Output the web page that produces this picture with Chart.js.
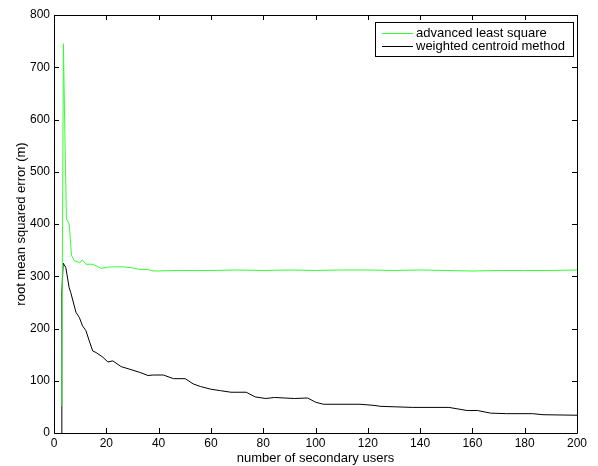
<!DOCTYPE html>
<html>
<head>
<meta charset="utf-8">
<script src="https://cdn.jsdelivr.net/npm/chart.js@4.4.1/dist/chart.umd.min.js"></script>
<style>
  html, body { margin: 0; padding: 0; background: #fff; }
  #wrap { width: 598px; height: 466px; position: relative; }
</style>
</head>
<body>
<div id="wrap"><canvas id="c" width="598" height="466"></canvas></div>
<script>
// ---- data ----
const seriesNames = ["advanced least square", "weighted centroid method"];
const xTicks = [0, 20, 40, 60, 80, 100, 120, 140, 160, 180, 200];
const yTicks = [0, 100, 200, 300, 400, 500, 600, 700, 800];

const greenX = [2.7, 3, 3.6, 4, 4.75, 5.8, 6.7, 7.7, 9.7, 10.9, 12.2, 14.8, 16.1, 18, 20, 22, 26.4, 30, 32.8, 35.7, 38, 47, 55, 60, 70, 80, 90, 100, 110, 120, 130, 140, 150, 160, 170, 180, 190, 200];
const greenY = [52, 126, 745, 620, 410, 400, 340, 330, 326, 331, 323, 323, 320, 315, 317, 318, 318, 316, 313, 313, 310, 311, 311, 311, 312, 311, 312, 311, 312, 312, 311, 312, 311, 310, 311, 311, 311, 312];

const blackX = [3, 3, 3.5, 4.5, 5.8, 6.4, 8.4, 9.7, 10.9, 12.2, 13.5, 14.8, 16.1, 18.7, 20.6, 22.5, 25.7, 29, 32.8, 36, 38, 41.8, 45.7, 50.2, 53.2, 56, 59.8, 63.7, 67.7, 73.5, 77, 81, 84.3, 92, 97, 100, 103, 117, 122, 125, 137, 151, 158, 162, 167, 173, 183, 187, 200];
const blackY = [0, 270, 325, 317, 278, 269, 231, 221, 205, 196, 176, 157, 154, 145, 136, 138, 127, 122, 116, 110, 111, 111, 104, 104, 94, 89, 84, 81, 78, 78, 69, 66, 68, 66, 67, 59, 55, 55, 53, 51, 49, 49, 43, 43, 38, 37, 37, 35, 34];

const toPts = (xs, ys) => xs.map((x, i) => ({ x: x, y: ys[i] }));

const FONT = "'Liberation Sans', Arial, Helvetica, sans-serif";

// MATLAB-style box with inward ticks on all four sides
const matlabBox = {
  id: 'matlabBox',
  afterDraw(chart) {
    const { ctx, chartArea: a, scales } = chart;
    const xs = scales.x, ys = scales.y;
    const L = 5;
    ctx.save();
    ctx.strokeStyle = '#000';
    ctx.lineWidth = 1;
    ctx.beginPath();
    ctx.rect(Math.round(a.left) + 0.5, Math.round(a.top) + 0.5,
             Math.round(a.right - a.left), Math.round(a.bottom - a.top));
    xTicks.forEach(v => {
      const px = Math.round(xs.getPixelForValue(v)) + 0.5;
      ctx.moveTo(px, a.bottom); ctx.lineTo(px, a.bottom - L);
      ctx.moveTo(px, a.top); ctx.lineTo(px, a.top + L);
    });
    yTicks.forEach(v => {
      const py = Math.round(ys.getPixelForValue(v)) + 0.5;
      ctx.moveTo(a.left, py); ctx.lineTo(a.left + L, py);
      ctx.moveTo(a.right, py); ctx.lineTo(a.right - L, py);
    });
    ctx.stroke();
    ctx.restore();
  }
};

// MATLAB-style legend box
const matlabLegend = {
  id: 'matlabLegend',
  afterDraw(chart) {
    const { ctx, chartArea: a } = chart;
    const ds = chart.data.datasets;
    const boxR = a.right - 4, boxL = boxR - 198, boxT = 22, boxB = 56;
    ctx.save();
    ctx.fillStyle = '#fff';
    ctx.fillRect(boxL, boxT, boxR - boxL, boxB - boxT);
    ctx.strokeStyle = '#000';
    ctx.lineWidth = 1;
    ctx.strokeRect(Math.round(boxL) + 0.5, boxT + 0.5, Math.round(boxR - boxL), boxB - boxT);
    ctx.font = "13px " + FONT;
    ctx.textBaseline = 'middle';
    ds.forEach((d, i) => {
      const y = boxT + 11 + i * 13.4;
      ctx.strokeStyle = d.borderColor;
      ctx.beginPath();
      ctx.moveTo(boxL + 7, Math.round(y) + 0.5);
      ctx.lineTo(boxL + 38, Math.round(y) + 0.5);
      ctx.stroke();
      ctx.fillStyle = '#000';
      ctx.fillText(d.label, boxL + 41, y);
    });
    ctx.restore();
  }
};

new Chart(document.getElementById('c'), {
  type: 'line',
  data: {
    datasets: [
      { label: seriesNames[0], data: toPts(greenX, greenY), borderColor: '#33ff33', borderWidth: 1, pointRadius: 0, tension: 0, fill: false },
      { label: seriesNames[1], data: toPts(blackX, blackY), borderColor: '#000000', borderWidth: 1, pointRadius: 0, tension: 0, fill: false }
    ]
  },
  options: {
    responsive: false,
    animation: false,
    devicePixelRatio: 1,
    layout: { padding: { left: 0, right: 21, top: 15, bottom: 0 } },
    plugins: { legend: { display: false }, tooltip: { enabled: false } },
    scales: {
      x: {
        type: 'linear', min: 0, max: 200,
        afterBuildTicks: s => { s.ticks = xTicks.map(v => ({ value: v })); },
        afterFit: s => { s.height = 33; },
        grid: { display: false, drawTicks: false },
        border: { display: false },
        ticks: { color: '#000', font: { family: FONT, size: 12 }, padding: 3, maxRotation: 0 },
        title: { display: true, text: 'number of secondary users', color: '#000', font: { family: FONT, size: 13 }, padding: { top: 0, bottom: 0 } }
      },
      y: {
        type: 'linear', min: 0, max: 800,
        afterBuildTicks: s => { s.ticks = yTicks.map(v => ({ value: v })); },
        afterFit: s => { s.width = 54; },
        grid: { display: false, drawTicks: false },
        border: { display: false },
        ticks: { color: '#000', font: { family: FONT, size: 12 }, padding: 4 },
        title: { display: true, text: 'root mean squared error (m)', color: '#000', font: { family: FONT, size: 13 }, padding: { top: 14, bottom: 0 } }
      }
    }
  },
  plugins: [matlabBox, matlabLegend]
});
</script>
</body>
</html>
